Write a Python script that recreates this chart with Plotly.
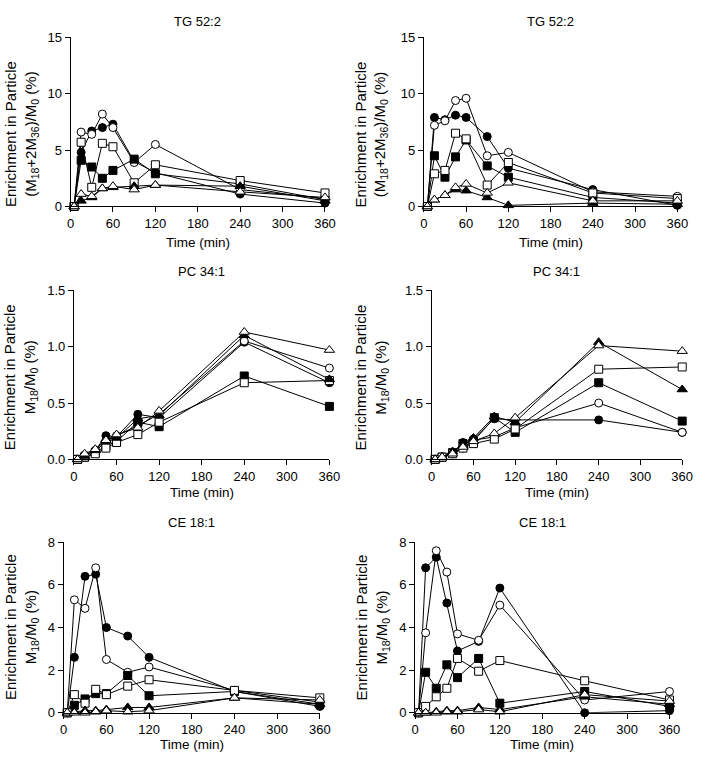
import plotly.graph_objects as go

W, H = 703, 760

TIME = [5, 15, 30, 45, 60, 90, 120, 240, 360]
X_TICKS = [0, 60, 120, 180, 240, 300, 360]

# ---- TG 52:2 (left)
TGL_FC = [0, 4.8, 6.7, 7.0, 7.3, 4.0, 3.0, 1.1, 0.3]
TGL_OC = [0, 6.6, 6.4, 8.2, 7.0, 3.9, 5.5, 1.5, 0.7]
TGL_FS = [0, 4.1, 3.5, 2.5, 3.2, 4.2, 2.9, 2.0, 0.6]
TGL_OS = [0, 5.7, 1.7, 5.6, 5.3, 2.1, 3.7, 2.3, 1.2]
TGL_FT = [0, 0.5, 0.8, 1.6, 1.7, 1.8, 1.9, 1.8, 0.5]
TGL_OT = [0, 1.1, 0.9, 1.6, 1.8, 1.5, 1.9, 1.3, 0.8]

# ---- TG 52:2 (right)
TGR_FC = [0, 7.9, 7.7, 8.1, 7.9, 6.2, 3.4, 1.5, 0.1]
TGR_OC = [0, 7.2, 7.6, 9.4, 9.6, 4.5, 4.8, 1.3, 0.9]
TGR_FS = [0, 4.5, 2.6, 4.4, 5.9, 3.6, 2.6, 0.8, 0.3]
TGR_OS = [0, 2.9, 3.2, 6.5, 6.0, 1.9, 3.9, 1.2, 0.7]
TGR_FT = [0, 0.6, 1.0, 1.5, 1.4, 0.8, 0.1, 0.3, 0.2]
TGR_OT = [0, 0.6, 1.0, 1.7, 2.0, 1.2, 2.1, 0.5, 0.5]

# ---- PC 34:1 (left)
PCL_FC = [0, 0.03, 0.08, 0.21, 0.20, 0.40, 0.37, 1.04, 0.68]
PCL_OC = [0, 0.04, 0.07, 0.16, 0.21, 0.30, 0.40, 1.05, 0.81]
PCL_FS = [0, 0.02, 0.06, 0.12, 0.16, 0.33, 0.29, 0.74, 0.47]
PCL_OS = [0, 0.02, 0.05, 0.10, 0.15, 0.22, 0.33, 0.68, 0.70]
PCL_FT = [0, 0.03, 0.08, 0.18, 0.19, 0.36, 0.39, 1.10, 0.71]
PCL_OT = [0, 0.05, 0.09, 0.17, 0.22, 0.28, 0.43, 1.13, 0.97]

# ---- PC 34:1 (right)
PCR_FC = [0, 0.02, 0.06, 0.15, 0.18, 0.36, 0.35, 0.35, 0.24]
PCR_OC = [0, 0.02, 0.05, 0.10, 0.17, 0.20, 0.28, 0.50, 0.24]
PCR_FS = [0, 0.02, 0.06, 0.14, 0.16, 0.37, 0.24, 0.68, 0.34]
PCR_OS = [0, 0.02, 0.05, 0.10, 0.14, 0.18, 0.27, 0.80, 0.82]
PCR_FT = [0, 0.02, 0.07, 0.12, 0.19, 0.38, 0.33, 1.04, 0.62]
PCR_OT = [0, 0.02, 0.05, 0.11, 0.16, 0.23, 0.37, 1.01, 0.96]

# ---- CE 18:1 (left)
CEL_FC = [0, 2.6, 6.4, 6.5, 4.0, 3.6, 2.6, 1.0, 0.3]
CEL_OC = [0, 5.3, 4.9, 6.8, 2.5, 1.9, 2.15, 1.05, 0.5]
CEL_FS = [0, 0.35, 0.65, 0.9, 0.9, 1.75, 0.8, 1.0, 0.4]
CEL_OS = [0, 0.85, 0.45, 1.1, 0.85, 1.25, 1.55, 1.05, 0.7]
CEL_FT = [0, 0.05, 0.1, 0.1, 0.15, 0.25, 0.25, 0.7, 0.4]
CEL_OT = [0, 0.0, 0.0, 0.05, 0.1, 0.05, 0.1, 0.7, 0.6]

# ---- CE 18:1 (right)
CER_FC = [0, 6.8, 7.3, 5.15, 2.9, 3.35, 5.85, 0.0, 0.1]
CER_OC = [0, 3.75, 7.6, 6.6, 3.7, 3.4, 5.05, 0.6, 1.0]
CER_FS = [0, 1.9, 1.15, 2.25, 1.65, 2.55, 0.45, 1.0, 0.3]
CER_OS = [0, 0.3, 0.75, 1.15, 2.55, 1.95, 2.45, 1.5, 0.6]
CER_FT = [0, 0.0, 0.05, 0.1, 0.1, 0.25, 0.15, 0.75, 0.4]
CER_OT = [0, 0.0, 0.0, 0.05, 0.05, 0.15, 0.05, 0.85, 0.55]

TITLES = ["TG 52:2", "TG 52:2", "PC 34:1", "PC 34:1", "CE 18:1", "CE 18:1"]
Y_TITLE_TG = "Enrichment in Particle<br>(M<sub>18</sub>+2M<sub>36</sub>)/M<sub>0</sub> (%)"
Y_TITLE_M = "Enrichment in Particle<br>M<sub>18</sub>/M<sub>0</sub> (%)"
X_TITLE = "Time (min)"

# symbol, filled?
STYLES = [("circle", True), ("circle", False), ("square", True),
          ("square", False), ("triangle-up", True), ("triangle-up", False)]

PANELS = [
    # data, plot-area px (x0, x1, ytop, ybottom), y range, dtick, tickformat, y title
    ([TGL_FC, TGL_OC, TGL_FS, TGL_OS, TGL_FT, TGL_OT], (68, 328, 31, 203.5), [0, 15], 5, "d", Y_TITLE_TG),
    ([TGR_FC, TGR_OC, TGR_FS, TGR_OS, TGR_FT, TGR_OT], (429, 688, 31, 203.5), [0, 15], 5, "d", Y_TITLE_TG),
    ([PCL_FC, PCL_OC, PCL_FS, PCL_OS, PCL_FT, PCL_OT], (71.5, 332.5, 289, 461.5), [0, 1.5], 0.5, ".1f", Y_TITLE_M),
    ([PCR_FC, PCR_OC, PCR_FS, PCR_OS, PCR_FT, PCR_OT], (437, 693, 289, 461.5), [0, 1.5], 0.5, ".1f", Y_TITLE_M),
    ([CEL_FC, CEL_OC, CEL_FS, CEL_OS, CEL_FT, CEL_OT], (61, 322.7, 546, 720), [0, 8], 2, "d", Y_TITLE_M),
    ([CER_FC, CER_OC, CER_FS, CER_OS, CER_FT, CER_OT], (420, 680, 546, 720), [0, 8], 2, "d", Y_TITLE_M),
]
# y-title centre (px) and x-title / panel-title vertical positions (px)
YT_POS = [(18, 130), (375, 130), (17, 378), (376, 378), (18, 633), (377, 633)]
XT_Y = [240, 240, 495, 495, 752, 752]
PT_Y = [15, 15, 270, 270, 526, 526]

FONT = "Arial, 'Liberation Sans', Helvetica, sans-serif"

fig = go.Figure()
layout = dict(width=W, height=H, autosize=False, margin=dict(l=0, r=0, t=0, b=0),
              paper_bgcolor="white", plot_bgcolor="white", showlegend=False,
              font=dict(family=FONT, color="black", size=13))
annotations = []

for i, (series, (x0, x1, yt, yb), yr, dt, tf, ytitle) in enumerate(PANELS):
    n = i + 1
    xa = "x" if n == 1 else f"x{n}"
    ya = "y" if n == 1 else f"y{n}"
    for vals, (sym, filled) in zip(series, STYLES):
        fig.add_trace(go.Scatter(
            x=TIME, y=vals, mode="lines+markers", xaxis=xa, yaxis=ya,
            cliponaxis=False,
            line=dict(color="black", width=1),
            marker=dict(symbol=sym, size=8 if sym != "triangle-up" else 9,
                        color="black" if filled else "white",
                        line=dict(color="black", width=1)),
        ))
    axis_common = dict(showline=True, linecolor="black", linewidth=1, ticks="outside",
                       ticklen=5, tickwidth=1, tickcolor="black", showgrid=False,
                       zeroline=False, tickfont=dict(size=13, family=FONT, color="black"))
    layout["xaxis" if n == 1 else f"xaxis{n}"] = dict(
        domain=[x0 / W, x1 / W], range=[0, 360], tickvals=X_TICKS,
        anchor=ya, **axis_common)
    layout["yaxis" if n == 1 else f"yaxis{n}"] = dict(
        domain=[1 - yb / H, 1 - yt / H], range=yr, dtick=dt, tick0=0,
        tickformat=tf, anchor=xa, **axis_common)
    cx = (x0 + x1) / 2
    annotations.append(dict(text=TITLES[i], x=cx / W, y=1 - PT_Y[i] / H, xref="paper", yref="paper",
                            showarrow=False, xanchor="center", yanchor="middle",
                            font=dict(size=13, family=FONT, color="black")))
    annotations.append(dict(text=X_TITLE, x=cx / W, y=1 - XT_Y[i] / H, xref="paper", yref="paper",
                            showarrow=False, xanchor="center", yanchor="middle",
                            font=dict(size=13.5, family=FONT, color="black")))
    tx, ty = YT_POS[i]
    annotations.append(dict(text=ytitle, x=tx / W, y=1 - ty / H, xref="paper", yref="paper",
                            showarrow=False, xanchor="center", yanchor="middle", textangle=-90,
                            font=dict(size=15, family=FONT, color="black")))

layout["annotations"] = annotations
fig.update_layout(**layout)
fig.write_html("out.html", config={"displayModeBar": False},
               post_script="document.body.style.margin='0';document.body.style.overflow='hidden';")
